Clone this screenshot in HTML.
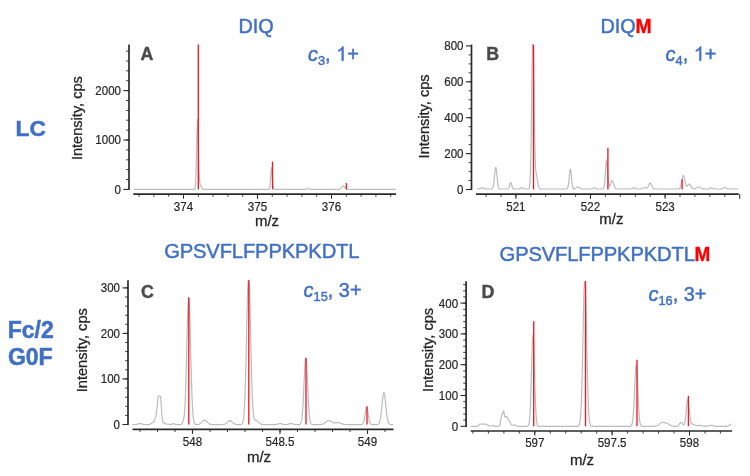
<!DOCTYPE html>
<html><head><meta charset="utf-8"><title>Figure</title>
<style>
html,body{margin:0;padding:0;background:#fff;}
body{width:750px;height:476px;overflow:hidden;font-family:"Liberation Sans",sans-serif;}
svg{display:block;font-family:"Liberation Sans",sans-serif;filter:blur(0.35px);}
</style></head><body>
<svg width="750" height="476" viewBox="0 0 750 476">
<rect width="750" height="476" fill="#ffffff"/>
<path d="M134 189.4 L194 189.4 L194.5 189.2 L195 188.2 L195.5 184.3 L196 173.8 L196.5 154.4 L197 131.7 L197.5 119.5 L198 127.1 L198.5 148.3 L199 168.7 L199.5 180.2 L200 184.1 L200.5 185.1 L201 185.8 L201.5 186.9 L202 188.1 L202.5 188.8 L203 189.2 L203.5 189.4 L268.5 189.4 L269 189.3 L269.5 188.6 L270 186.1 L270.5 180.3 L271 172.2 L271.5 167.5 L272 170.5 L272.5 178.4 L273 185 L273.5 188.2 L274 189.2 L274.5 189.4 L305 189.4 L305.5 189.3 L306 189.2 L306.5 188.9 L307 188.5 L307.5 188.3 L308 188.2 L308.5 188.4 L309 188.8 L309.5 189.1 L310 189.3 L310.5 189.4 L338.5 189.4 L339 189.3 L339.5 189.2 L340 189 L340.5 188.7 L341 188.2 L341.5 187.6 L342 186.9 L342.5 186.4 L343 186 L343.5 185.9 L344 186.2 L344.5 186.7 L345 187.4 L345.5 188 L346 188.5 L346.5 188.9 L347 189.1 L347.5 189.3 L348 189.3 L348.5 189.4 L396 189.4" fill="none" stroke="#bcbcbc" stroke-width="1.2" stroke-linejoin="round"/>
<line x1="198.3" y1="44.6" x2="198.3" y2="189.4" stroke="#ee1c24" stroke-width="1.35"/>
<line x1="272.5" y1="161.58780000000002" x2="272.5" y2="189.4" stroke="#ee1c24" stroke-width="1.35"/>
<line x1="346.4" y1="182.978" x2="346.4" y2="189.4" stroke="#ee1c24" stroke-width="1.35"/>
<line x1="129.0" y1="44.6" x2="129.0" y2="190.0" stroke="#2b2b2b" stroke-width="1.7"/>
<line x1="126.1" y1="179.5" x2="129.0" y2="179.5" stroke="#2b2b2b" stroke-width="0.9"/>
<line x1="126.1" y1="169.6" x2="129.0" y2="169.6" stroke="#2b2b2b" stroke-width="0.9"/>
<line x1="126.1" y1="159.8" x2="129.0" y2="159.8" stroke="#2b2b2b" stroke-width="0.9"/>
<line x1="126.1" y1="149.9" x2="129.0" y2="149.9" stroke="#2b2b2b" stroke-width="0.9"/>
<line x1="126.1" y1="140.0" x2="129.0" y2="140.0" stroke="#2b2b2b" stroke-width="0.9"/>
<line x1="126.1" y1="130.1" x2="129.0" y2="130.1" stroke="#2b2b2b" stroke-width="0.9"/>
<line x1="126.1" y1="120.2" x2="129.0" y2="120.2" stroke="#2b2b2b" stroke-width="0.9"/>
<line x1="126.1" y1="110.4" x2="129.0" y2="110.4" stroke="#2b2b2b" stroke-width="0.9"/>
<line x1="126.1" y1="100.5" x2="129.0" y2="100.5" stroke="#2b2b2b" stroke-width="0.9"/>
<line x1="126.1" y1="90.6" x2="129.0" y2="90.6" stroke="#2b2b2b" stroke-width="0.9"/>
<line x1="126.1" y1="80.7" x2="129.0" y2="80.7" stroke="#2b2b2b" stroke-width="0.9"/>
<line x1="126.1" y1="70.8" x2="129.0" y2="70.8" stroke="#2b2b2b" stroke-width="0.9"/>
<line x1="126.1" y1="61.0" x2="129.0" y2="61.0" stroke="#2b2b2b" stroke-width="0.9"/>
<line x1="126.1" y1="51.1" x2="129.0" y2="51.1" stroke="#2b2b2b" stroke-width="0.9"/>
<line x1="123.4" y1="189.4" x2="129.0" y2="189.4" stroke="#2b2b2b" stroke-width="1.1"/>
<line x1="123.4" y1="140.0" x2="129.0" y2="140.0" stroke="#2b2b2b" stroke-width="1.1"/>
<line x1="123.4" y1="90.6" x2="129.0" y2="90.6" stroke="#2b2b2b" stroke-width="1.1"/>
<line x1="133.3" y1="194.1" x2="396" y2="194.1" stroke="#2b2b2b" stroke-width="1.7"/>
<line x1="139.1" y1="194.1" x2="139.1" y2="196.7" stroke="#2b2b2b" stroke-width="0.9"/>
<line x1="153.9" y1="194.1" x2="153.9" y2="196.7" stroke="#2b2b2b" stroke-width="0.9"/>
<line x1="168.7" y1="194.1" x2="168.7" y2="196.7" stroke="#2b2b2b" stroke-width="0.9"/>
<line x1="183.5" y1="194.1" x2="183.5" y2="196.7" stroke="#2b2b2b" stroke-width="0.9"/>
<line x1="198.3" y1="194.1" x2="198.3" y2="196.7" stroke="#2b2b2b" stroke-width="0.9"/>
<line x1="213.1" y1="194.1" x2="213.1" y2="196.7" stroke="#2b2b2b" stroke-width="0.9"/>
<line x1="227.9" y1="194.1" x2="227.9" y2="196.7" stroke="#2b2b2b" stroke-width="0.9"/>
<line x1="242.7" y1="194.1" x2="242.7" y2="196.7" stroke="#2b2b2b" stroke-width="0.9"/>
<line x1="257.5" y1="194.1" x2="257.5" y2="196.7" stroke="#2b2b2b" stroke-width="0.9"/>
<line x1="272.3" y1="194.1" x2="272.3" y2="196.7" stroke="#2b2b2b" stroke-width="0.9"/>
<line x1="287.1" y1="194.1" x2="287.1" y2="196.7" stroke="#2b2b2b" stroke-width="0.9"/>
<line x1="301.9" y1="194.1" x2="301.9" y2="196.7" stroke="#2b2b2b" stroke-width="0.9"/>
<line x1="316.7" y1="194.1" x2="316.7" y2="196.7" stroke="#2b2b2b" stroke-width="0.9"/>
<line x1="331.5" y1="194.1" x2="331.5" y2="196.7" stroke="#2b2b2b" stroke-width="0.9"/>
<line x1="346.3" y1="194.1" x2="346.3" y2="196.7" stroke="#2b2b2b" stroke-width="0.9"/>
<line x1="361.1" y1="194.1" x2="361.1" y2="196.7" stroke="#2b2b2b" stroke-width="0.9"/>
<line x1="375.9" y1="194.1" x2="375.9" y2="196.7" stroke="#2b2b2b" stroke-width="0.9"/>
<line x1="390.7" y1="194.1" x2="390.7" y2="196.7" stroke="#2b2b2b" stroke-width="0.9"/>
<line x1="183.5" y1="194.1" x2="183.5" y2="198.7" stroke="#2b2b2b" stroke-width="1.1"/>
<line x1="257.5" y1="194.1" x2="257.5" y2="198.7" stroke="#2b2b2b" stroke-width="1.1"/>
<line x1="331.5" y1="194.1" x2="331.5" y2="198.7" stroke="#2b2b2b" stroke-width="1.1"/>
<text transform="translate(121.0 193.8) scale(0.94 1)" font-size="12.3" text-anchor="end" fill="#262626" stroke="#262626" stroke-width="0.2">0</text>
<text transform="translate(121.0 144.4) scale(0.94 1)" font-size="12.3" text-anchor="end" fill="#262626" stroke="#262626" stroke-width="0.2">1000</text>
<text transform="translate(121.0 95.0) scale(0.94 1)" font-size="12.3" text-anchor="end" fill="#262626" stroke="#262626" stroke-width="0.2">2000</text>
<text transform="translate(183.5 210.8) scale(0.94 1)" font-size="12.3" text-anchor="middle" fill="#262626" stroke="#262626" stroke-width="0.2">374</text>
<text transform="translate(257.5 210.8) scale(0.94 1)" font-size="12.3" text-anchor="middle" fill="#262626" stroke="#262626" stroke-width="0.2">375</text>
<text transform="translate(331.5 210.8) scale(0.94 1)" font-size="12.3" text-anchor="middle" fill="#262626" stroke="#262626" stroke-width="0.2">376</text>
<path d="M477 189 L478.5 189 L479 188.9 L479.5 188.8 L480 188.6 L480.5 188.4 L481 188.2 L481.5 188 L482 187.8 L482.5 187.8 L483 187.9 L483.5 188.1 L484 188.4 L484.5 188.6 L485 188.8 L485.5 188.9 L486 188.9 L486.5 189 L491.5 189 L492 188.8 L492.5 188.4 L493 187.4 L493.5 185.3 L494 181.5 L494.5 176.3 L495 171 L495.5 167.5 L496 167.4 L496.5 170.8 L497 176.1 L497.5 181.3 L498 185.2 L498.5 187.4 L499 188.4 L499.5 188.8 L500 189 L507.5 189 L508 188.8 L508.5 188.4 L509 187.4 L509.5 185.8 L510 183.8 L510.5 182.6 L511 182.8 L511.5 184.4 L512 186.3 L512.5 187.8 L513 188.6 L513.5 188.9 L514 189 L518.5 189 L519 188.9 L519.5 188.8 L520 188.6 L520.5 188.3 L521 188 L521.5 187.8 L522 187.7 L522.5 187.9 L523 188.2 L523.5 188.5 L524 188.7 L524.5 188.9 L525 189 L528 189 L528.5 188.9 L529 188.5 L529.5 187 L530 182.5 L530.5 171.2 L531 148.6 L531.5 113.4 L532 71.9 L532.5 44.6 L533 44.6 L533.5 48.1 L534 85.3 L534.5 123.9 L535 151.9 L535.5 166.6 L536 172.4 L536.5 174.8 L537 177.2 L537.5 180.3 L538 183.6 L538.5 186.1 L539 187.7 L539.5 188.5 L540 188.9 L540.5 189 L566.5 189 L567 188.8 L567.5 188.3 L568 187 L568.5 184.2 L569 179.7 L569.5 174.2 L570 170 L570.5 169.2 L571 172.1 L571.5 177.3 L572 182.4 L572.5 186 L573 187.9 L573.5 188.6 L574 188.8 L574.5 188.8 L575 188.7 L575.5 188.4 L576 188 L576.5 187.6 L577 187.3 L577.5 187 L578 187 L578.5 187.2 L579 187.5 L579.5 187.9 L580 188.3 L580.5 188.6 L581 188.8 L581.5 188.9 L582 189 L591 189 L591.5 188.9 L592 188.8 L592.5 188.6 L593 188.3 L593.5 188 L594 187.8 L594.5 187.8 L595 188 L595.5 188.3 L596 188.6 L596.5 188.8 L597 188.9 L597.5 189 L602.5 189 L603 188.8 L603.5 188.4 L604 187 L604.5 183.8 L605 178.1 L605.5 170.4 L606 163.3 L606.5 160 L607 162.4 L607.5 169.1 L608 176.8 L608.5 182.6 L609 185.7 L609.5 186.4 L610 185.7 L610.5 184.3 L611 182.6 L611.5 181.2 L612 180.5 L612.5 180.7 L613 181.8 L613.5 183.4 L614 185.1 L614.5 186.6 L615 187.6 L615.5 188.3 L616 188.7 L616.5 188.9 L617 189 L630.5 189 L631 188.9 L631.5 188.8 L632 188.6 L632.5 188.3 L633 188 L633.5 187.8 L634 187.8 L634.5 188 L635 188.3 L635.5 188.6 L636 188.8 L636.5 188.9 L637 189 L640 189 L640.5 188.9 L641 188.8 L641.5 188.7 L642 188.5 L642.5 188.2 L643 187.9 L643.5 187.7 L644 187.5 L644.5 187.5 L645 187.7 L645.5 187.9 L646 188.1 L646.5 188.2 L647 188.1 L647.5 187.6 L648 186.9 L648.5 185.8 L649 184.6 L649.5 183.6 L650 183 L650.5 183.1 L651 183.8 L651.5 184.9 L652 186.1 L652.5 187.2 L653 188 L653.5 188.5 L654 188.8 L654.5 188.9 L655 189 L678 189 L678.5 188.9 L679 188.8 L679.5 188.5 L680 188 L680.5 186.9 L681 185.2 L681.5 182.9 L682 180.3 L682.5 177.7 L683 176 L683.5 175.5 L684 176.5 L684.5 178.6 L685 181.2 L685.5 183.6 L686 185.3 L686.5 186.2 L687 186.3 L687.5 185.8 L688 185.1 L688.5 184.4 L689 184 L689.5 184.1 L690 184.6 L690.5 185.4 L691 186.3 L691.5 187.2 L692 187.9 L692.5 188.4 L693 188.7 L693.5 188.8 L694.5 188.8 L695 188.6 L695.5 188.4 L696 188.2 L696.5 187.9 L697 187.6 L697.5 187.3 L698 187.1 L698.5 187 L699 187 L699.5 187.2 L700 187.4 L700.5 187.7 L701 188 L701.5 188.3 L702 188.5 L702.5 188.7 L703 188.8 L703.5 188.9 L704 188.9 L704.5 189 L708 189 L708.5 188.9 L709 188.8 L709.5 188.6 L710 188.4 L710.5 188.1 L711 187.9 L711.5 187.8 L712 188 L712.5 188.2 L713 188.5 L713.5 188.8 L714 188.9 L714.5 189 L720.5 189 L721 188.9 L721.5 188.9 L722 188.7 L722.5 188.5 L723 188.3 L723.5 188 L724 187.7 L724.5 187.5 L725 187.5 L725.5 187.7 L726 187.9 L726.5 188.2 L727 188.5 L727.5 188.7 L728 188.9 L728.5 188.9 L729 189 L738 189" fill="none" stroke="#bcbcbc" stroke-width="1.2" stroke-linejoin="round"/>
<line x1="533.5" y1="44.6" x2="533.5" y2="189.5" stroke="#ee1c24" stroke-width="1.35"/>
<line x1="607.9" y1="147.6765" x2="607.9" y2="189.5" stroke="#ee1c24" stroke-width="1.35"/>
<line x1="682.1" y1="179.2685" x2="682.1" y2="189.5" stroke="#ee1c24" stroke-width="1.35"/>
<line x1="471.5" y1="44.6" x2="471.5" y2="190.1" stroke="#2b2b2b" stroke-width="1.7"/>
<line x1="468.6" y1="180.5" x2="471.5" y2="180.5" stroke="#2b2b2b" stroke-width="0.9"/>
<line x1="468.6" y1="171.6" x2="471.5" y2="171.6" stroke="#2b2b2b" stroke-width="0.9"/>
<line x1="468.6" y1="162.6" x2="471.5" y2="162.6" stroke="#2b2b2b" stroke-width="0.9"/>
<line x1="468.6" y1="153.6" x2="471.5" y2="153.6" stroke="#2b2b2b" stroke-width="0.9"/>
<line x1="468.6" y1="144.6" x2="471.5" y2="144.6" stroke="#2b2b2b" stroke-width="0.9"/>
<line x1="468.6" y1="135.7" x2="471.5" y2="135.7" stroke="#2b2b2b" stroke-width="0.9"/>
<line x1="468.6" y1="126.7" x2="471.5" y2="126.7" stroke="#2b2b2b" stroke-width="0.9"/>
<line x1="468.6" y1="117.7" x2="471.5" y2="117.7" stroke="#2b2b2b" stroke-width="0.9"/>
<line x1="468.6" y1="108.7" x2="471.5" y2="108.7" stroke="#2b2b2b" stroke-width="0.9"/>
<line x1="468.6" y1="99.8" x2="471.5" y2="99.8" stroke="#2b2b2b" stroke-width="0.9"/>
<line x1="468.6" y1="90.8" x2="471.5" y2="90.8" stroke="#2b2b2b" stroke-width="0.9"/>
<line x1="468.6" y1="81.8" x2="471.5" y2="81.8" stroke="#2b2b2b" stroke-width="0.9"/>
<line x1="468.6" y1="72.8" x2="471.5" y2="72.8" stroke="#2b2b2b" stroke-width="0.9"/>
<line x1="468.6" y1="63.9" x2="471.5" y2="63.9" stroke="#2b2b2b" stroke-width="0.9"/>
<line x1="468.6" y1="54.9" x2="471.5" y2="54.9" stroke="#2b2b2b" stroke-width="0.9"/>
<line x1="465.9" y1="189.5" x2="471.5" y2="189.5" stroke="#2b2b2b" stroke-width="1.1"/>
<line x1="465.9" y1="153.6" x2="471.5" y2="153.6" stroke="#2b2b2b" stroke-width="1.1"/>
<line x1="465.9" y1="117.7" x2="471.5" y2="117.7" stroke="#2b2b2b" stroke-width="1.1"/>
<line x1="465.9" y1="81.8" x2="471.5" y2="81.8" stroke="#2b2b2b" stroke-width="1.1"/>
<line x1="465.9" y1="45.9" x2="471.5" y2="45.9" stroke="#2b2b2b" stroke-width="1.1"/>
<line x1="476" y1="194.2" x2="738.8" y2="194.2" stroke="#2b2b2b" stroke-width="1.7"/>
<line x1="486.1" y1="194.2" x2="486.1" y2="196.79999999999998" stroke="#2b2b2b" stroke-width="0.9"/>
<line x1="501.0" y1="194.2" x2="501.0" y2="196.79999999999998" stroke="#2b2b2b" stroke-width="0.9"/>
<line x1="515.9" y1="194.2" x2="515.9" y2="196.79999999999998" stroke="#2b2b2b" stroke-width="0.9"/>
<line x1="530.8" y1="194.2" x2="530.8" y2="196.79999999999998" stroke="#2b2b2b" stroke-width="0.9"/>
<line x1="545.7" y1="194.2" x2="545.7" y2="196.79999999999998" stroke="#2b2b2b" stroke-width="0.9"/>
<line x1="560.7" y1="194.2" x2="560.7" y2="196.79999999999998" stroke="#2b2b2b" stroke-width="0.9"/>
<line x1="575.6" y1="194.2" x2="575.6" y2="196.79999999999998" stroke="#2b2b2b" stroke-width="0.9"/>
<line x1="590.5" y1="194.2" x2="590.5" y2="196.79999999999998" stroke="#2b2b2b" stroke-width="0.9"/>
<line x1="605.4" y1="194.2" x2="605.4" y2="196.79999999999998" stroke="#2b2b2b" stroke-width="0.9"/>
<line x1="620.3" y1="194.2" x2="620.3" y2="196.79999999999998" stroke="#2b2b2b" stroke-width="0.9"/>
<line x1="635.3" y1="194.2" x2="635.3" y2="196.79999999999998" stroke="#2b2b2b" stroke-width="0.9"/>
<line x1="650.2" y1="194.2" x2="650.2" y2="196.79999999999998" stroke="#2b2b2b" stroke-width="0.9"/>
<line x1="665.1" y1="194.2" x2="665.1" y2="196.79999999999998" stroke="#2b2b2b" stroke-width="0.9"/>
<line x1="680.0" y1="194.2" x2="680.0" y2="196.79999999999998" stroke="#2b2b2b" stroke-width="0.9"/>
<line x1="694.9" y1="194.2" x2="694.9" y2="196.79999999999998" stroke="#2b2b2b" stroke-width="0.9"/>
<line x1="709.9" y1="194.2" x2="709.9" y2="196.79999999999998" stroke="#2b2b2b" stroke-width="0.9"/>
<line x1="724.8" y1="194.2" x2="724.8" y2="196.79999999999998" stroke="#2b2b2b" stroke-width="0.9"/>
<line x1="515.9" y1="194.2" x2="515.9" y2="198.79999999999998" stroke="#2b2b2b" stroke-width="1.1"/>
<line x1="590.5" y1="194.2" x2="590.5" y2="198.79999999999998" stroke="#2b2b2b" stroke-width="1.1"/>
<line x1="665.1" y1="194.2" x2="665.1" y2="198.79999999999998" stroke="#2b2b2b" stroke-width="1.1"/>
<line x1="739.7" y1="194.2" x2="739.7" y2="198.79999999999998" stroke="#2b2b2b" stroke-width="1.1"/>
<text transform="translate(463.5 193.9) scale(0.94 1)" font-size="12.3" text-anchor="end" fill="#262626" stroke="#262626" stroke-width="0.2">0</text>
<text transform="translate(463.5 158.0) scale(0.94 1)" font-size="12.3" text-anchor="end" fill="#262626" stroke="#262626" stroke-width="0.2">200</text>
<text transform="translate(463.5 122.1) scale(0.94 1)" font-size="12.3" text-anchor="end" fill="#262626" stroke="#262626" stroke-width="0.2">400</text>
<text transform="translate(463.5 86.2) scale(0.94 1)" font-size="12.3" text-anchor="end" fill="#262626" stroke="#262626" stroke-width="0.2">600</text>
<text transform="translate(463.5 50.3) scale(0.94 1)" font-size="12.3" text-anchor="end" fill="#262626" stroke="#262626" stroke-width="0.2">800</text>
<text transform="translate(515.9 210.9) scale(0.94 1)" font-size="12.3" text-anchor="middle" fill="#262626" stroke="#262626" stroke-width="0.2">521</text>
<text transform="translate(590.5 210.9) scale(0.94 1)" font-size="12.3" text-anchor="middle" fill="#262626" stroke="#262626" stroke-width="0.2">522</text>
<text transform="translate(665.1 210.9) scale(0.94 1)" font-size="12.3" text-anchor="middle" fill="#262626" stroke="#262626" stroke-width="0.2">523</text>
<path d="M132.5 424.6 L135 424.6 L135.5 424.5 L136 424.5 L136.5 424.4 L137 424.3 L137.5 424.1 L138 424 L138.5 423.8 L139 423.7 L139.5 423.6 L140.5 423.6 L141 423.7 L141.5 423.8 L142 424 L142.5 424.1 L143 424.3 L143.5 424.4 L144 424.5 L144.5 424.5 L145 424.6 L149.5 424.6 L150 424.3 L151 423.6 L153.4 422.1 L154.6 420 L155.5 417.6 L156.2 414 L157.4 404.6 L158.2 396.3 L159.4 396 L160.6 396.3 L161.2 404.6 L161.8 414 L162.7 421.1 L163.4 423.1 L164.8 422.8 L166 424 L170.8 424.3 L173.8 423.6 L175 424.3 L175.5 424.6 L180.5 424.6 L181 424.5 L181.5 424.3 L182 423.8 L182.5 422.8 L183 421.3 L183.5 419.6 L184 417.2 L184.5 412.8 L185 405.2 L185.5 393.6 L186 378 L186.5 359.1 L187 338.8 L187.5 319.7 L188 305 L188.5 297.3 L189 298.2 L189.5 307.5 L190 323.3 L190.5 342.9 L191 363.1 L191.5 381.4 L192 396.3 L192.5 407.3 L193 414.7 L193.5 419.3 L194 422 L194.5 423.4 L195 424.1 L195.5 424.4 L196 424.5 L197.5 424.5 L198 424.4 L198.5 424.3 L199 424.2 L199.5 424 L200 423.7 L200.5 423.3 L201 422.9 L201.5 422.4 L202 421.9 L202.5 421.3 L203 420.8 L203.5 420.4 L204 420.2 L204.5 420.1 L205 420.2 L205.5 420.4 L206 420.8 L206.5 421.3 L207 421.9 L207.5 422.4 L208 422.9 L208.5 423.3 L209 423.7 L209.5 424 L210 424.2 L210.5 424.3 L211 424.4 L211.5 424.5 L212 424.6 L222 424.6 L222.5 424.5 L223 424.5 L223.5 424.4 L224 424.4 L224.5 424.2 L225 424 L225.5 423.7 L226 423.4 L226.5 423 L227 422.6 L227.5 422.1 L228 421.6 L228.5 421.2 L229 420.9 L229.5 420.7 L230 420.6 L230.5 420.7 L231 421 L231.5 421.3 L232 421.8 L232.5 422.3 L233 422.7 L233.5 423.2 L234 423.6 L234.5 423.9 L235 424.1 L235.5 424.3 L236 424.4 L236.5 424.5 L237 424.5 L237.5 424.6 L240.5 424.6 L241 424.5 L241.5 424.3 L242 424 L242.5 423.2 L243 421.6 L243.5 418.8 L244 413.9 L244.5 406.3 L245 394.9 L245.5 379.5 L246 360.2 L246.5 338.2 L247 315.7 L247.5 295.6 L248 281.2 L248.5 280.4 L249 280.4 L249.5 288.9 L250 307 L250.5 328.7 L251 351 L251.5 371.4 L252 388.1 L252.5 400.7 L253 409.3 L253.5 414.7 L254 417.8 L254.5 419.3 L255 420 L255.5 420.3 L256 420.4 L256.5 420.6 L257 420.9 L257.5 421.3 L258 421.7 L258.5 422.2 L259 422.7 L259.5 423.1 L260 423.5 L260.5 423.8 L261 424.1 L261.5 424.2 L262 424.4 L262.5 424.5 L263 424.5 L263.5 424.6 L275 424.6 L275.5 424.5 L276 424.5 L276.5 424.4 L277 424.3 L277.5 424.1 L278 424 L278.5 423.8 L279 423.7 L279.5 423.6 L280.5 423.6 L281 423.7 L281.5 423.8 L282 424 L282.5 424.1 L283 424.3 L283.5 424.4 L284 424.5 L285 424.5 L285.5 424.6 L286 424.5 L287 424.5 L287.5 424.4 L288 424.3 L288.5 424.1 L289 424 L289.5 423.8 L290 423.7 L290.5 423.6 L291.5 423.6 L292 423.7 L292.5 423.8 L293 424 L293.5 424.1 L294 424.3 L294.5 424.4 L295 424.5 L295.5 424.5 L296 424.6 L298.5 424.6 L299 424.5 L299.5 424.5 L300 424.2 L300.5 423.7 L301 422.7 L301.5 420.7 L302 417.4 L302.5 412.1 L303 404.6 L303.5 395 L304 384 L304.5 373 L305 363.9 L305.5 358.5 L306 358 L306.5 362.5 L307 371 L307.5 381.7 L308 392.9 L308.5 402.8 L309 410.8 L309.5 416.5 L310 420.2 L310.5 422.4 L311 423.6 L311.5 424.2 L312 424.4 L312.5 424.5 L313 424.6 L319.5 424.6 L320 424.5 L321 424.5 L321.5 424.4 L322 424.3 L322.5 424.1 L323 423.9 L323.5 423.7 L324 423.4 L324.5 423.1 L325 422.7 L325.5 422.3 L326 421.9 L326.5 421.5 L327 421.2 L327.5 420.9 L328 420.7 L328.5 420.6 L329 420.6 L329.5 420.7 L330 420.9 L330.5 421.2 L331 421.5 L331.5 421.8 L332 422.1 L332.5 422.4 L333 422.7 L333.5 422.8 L334 422.9 L334.5 423 L335 422.9 L335.5 422.9 L336 422.8 L336.5 422.7 L337 422.6 L338.5 422.6 L339 422.7 L339.5 422.8 L340 423 L340.5 423.2 L341 423.4 L341.5 423.6 L342 423.8 L342.5 424 L343 424.1 L343.5 424.2 L344 424.3 L344.5 424.4 L345 424.5 L346 424.5 L346.5 424.6 L361 424.6 L361.5 424.5 L362 424.3 L362.5 424 L363 423.2 L363.5 422 L364 420.1 L364.5 417.4 L365 414.3 L365.5 411.2 L366 408.8 L366.5 407.6 L367 408.1 L367.5 410.1 L368 413 L368.5 416.2 L369 419.1 L369.5 421.3 L370 422.8 L370.5 423.7 L371 424.2 L371.5 424.4 L372 424.5 L372.5 424.6 L377 424.6 L377.5 424.5 L378 424.3 L378.5 424 L379 423.4 L379.5 422.4 L380 420.7 L380.5 418.1 L381 414.6 L381.5 410.2 L382 405.2 L382.5 400.2 L383 396 L383.5 393.3 L384 392.6 L384.5 394.2 L385 397.5 L385.5 402.2 L386 407.2 L386.5 412.1 L387 416.1 L387.5 419.3 L388 421.5 L388.5 422.9 L389 423.7 L389.5 424.2 L390 424.4 L390.5 424.5 L391 424.6 L393 424.6" fill="none" stroke="#bcbcbc" stroke-width="1.2" stroke-linejoin="round"/>
<line x1="188.8" y1="297.4155" x2="188.8" y2="424.5" stroke="#ee1c24" stroke-width="1.35"/>
<line x1="248.8" y1="280.2" x2="248.8" y2="424.5" stroke="#ee1c24" stroke-width="1.35"/>
<line x1="306" y1="357.997" x2="306" y2="424.5" stroke="#ee1c24" stroke-width="1.35"/>
<line x1="367" y1="406.28" x2="367" y2="424.5" stroke="#ee1c24" stroke-width="1.35"/>
<line x1="128" y1="280.2" x2="128" y2="425.1" stroke="#2b2b2b" stroke-width="1.7"/>
<line x1="125.1" y1="415.4" x2="128" y2="415.4" stroke="#2b2b2b" stroke-width="0.9"/>
<line x1="125.1" y1="406.3" x2="128" y2="406.3" stroke="#2b2b2b" stroke-width="0.9"/>
<line x1="125.1" y1="397.2" x2="128" y2="397.2" stroke="#2b2b2b" stroke-width="0.9"/>
<line x1="125.1" y1="388.1" x2="128" y2="388.1" stroke="#2b2b2b" stroke-width="0.9"/>
<line x1="125.1" y1="378.9" x2="128" y2="378.9" stroke="#2b2b2b" stroke-width="0.9"/>
<line x1="125.1" y1="369.8" x2="128" y2="369.8" stroke="#2b2b2b" stroke-width="0.9"/>
<line x1="125.1" y1="360.7" x2="128" y2="360.7" stroke="#2b2b2b" stroke-width="0.9"/>
<line x1="125.1" y1="351.6" x2="128" y2="351.6" stroke="#2b2b2b" stroke-width="0.9"/>
<line x1="125.1" y1="342.5" x2="128" y2="342.5" stroke="#2b2b2b" stroke-width="0.9"/>
<line x1="125.1" y1="333.4" x2="128" y2="333.4" stroke="#2b2b2b" stroke-width="0.9"/>
<line x1="125.1" y1="324.3" x2="128" y2="324.3" stroke="#2b2b2b" stroke-width="0.9"/>
<line x1="125.1" y1="315.2" x2="128" y2="315.2" stroke="#2b2b2b" stroke-width="0.9"/>
<line x1="125.1" y1="306.1" x2="128" y2="306.1" stroke="#2b2b2b" stroke-width="0.9"/>
<line x1="125.1" y1="297.0" x2="128" y2="297.0" stroke="#2b2b2b" stroke-width="0.9"/>
<line x1="125.1" y1="287.9" x2="128" y2="287.9" stroke="#2b2b2b" stroke-width="0.9"/>
<line x1="122.4" y1="424.5" x2="128" y2="424.5" stroke="#2b2b2b" stroke-width="1.1"/>
<line x1="122.4" y1="378.9" x2="128" y2="378.9" stroke="#2b2b2b" stroke-width="1.1"/>
<line x1="122.4" y1="333.4" x2="128" y2="333.4" stroke="#2b2b2b" stroke-width="1.1"/>
<line x1="122.4" y1="287.9" x2="128" y2="287.9" stroke="#2b2b2b" stroke-width="1.1"/>
<line x1="132.5" y1="429.4" x2="393.5" y2="429.4" stroke="#2b2b2b" stroke-width="1.7"/>
<line x1="140.0" y1="429.4" x2="140.0" y2="432.0" stroke="#2b2b2b" stroke-width="0.9"/>
<line x1="157.5" y1="429.4" x2="157.5" y2="432.0" stroke="#2b2b2b" stroke-width="0.9"/>
<line x1="175.0" y1="429.4" x2="175.0" y2="432.0" stroke="#2b2b2b" stroke-width="0.9"/>
<line x1="192.5" y1="429.4" x2="192.5" y2="432.0" stroke="#2b2b2b" stroke-width="0.9"/>
<line x1="210.0" y1="429.4" x2="210.0" y2="432.0" stroke="#2b2b2b" stroke-width="0.9"/>
<line x1="227.5" y1="429.4" x2="227.5" y2="432.0" stroke="#2b2b2b" stroke-width="0.9"/>
<line x1="245.0" y1="429.4" x2="245.0" y2="432.0" stroke="#2b2b2b" stroke-width="0.9"/>
<line x1="262.5" y1="429.4" x2="262.5" y2="432.0" stroke="#2b2b2b" stroke-width="0.9"/>
<line x1="280.0" y1="429.4" x2="280.0" y2="432.0" stroke="#2b2b2b" stroke-width="0.9"/>
<line x1="297.5" y1="429.4" x2="297.5" y2="432.0" stroke="#2b2b2b" stroke-width="0.9"/>
<line x1="315.0" y1="429.4" x2="315.0" y2="432.0" stroke="#2b2b2b" stroke-width="0.9"/>
<line x1="332.5" y1="429.4" x2="332.5" y2="432.0" stroke="#2b2b2b" stroke-width="0.9"/>
<line x1="350.0" y1="429.4" x2="350.0" y2="432.0" stroke="#2b2b2b" stroke-width="0.9"/>
<line x1="367.5" y1="429.4" x2="367.5" y2="432.0" stroke="#2b2b2b" stroke-width="0.9"/>
<line x1="385.0" y1="429.4" x2="385.0" y2="432.0" stroke="#2b2b2b" stroke-width="0.9"/>
<line x1="192.5" y1="429.4" x2="192.5" y2="434.0" stroke="#2b2b2b" stroke-width="1.1"/>
<line x1="280.0" y1="429.4" x2="280.0" y2="434.0" stroke="#2b2b2b" stroke-width="1.1"/>
<line x1="367.5" y1="429.4" x2="367.5" y2="434.0" stroke="#2b2b2b" stroke-width="1.1"/>
<text transform="translate(120.0 428.9) scale(0.94 1)" font-size="12.3" text-anchor="end" fill="#262626" stroke="#262626" stroke-width="0.2">0</text>
<text transform="translate(120.0 383.3) scale(0.94 1)" font-size="12.3" text-anchor="end" fill="#262626" stroke="#262626" stroke-width="0.2">100</text>
<text transform="translate(120.0 337.8) scale(0.94 1)" font-size="12.3" text-anchor="end" fill="#262626" stroke="#262626" stroke-width="0.2">200</text>
<text transform="translate(120.0 292.2) scale(0.94 1)" font-size="12.3" text-anchor="end" fill="#262626" stroke="#262626" stroke-width="0.2">300</text>
<text transform="translate(192.5 445.8) scale(0.94 1)" font-size="12.3" text-anchor="middle" fill="#262626" stroke="#262626" stroke-width="0.2">548</text>
<text transform="translate(280.0 445.8) scale(0.94 1)" font-size="12.3" text-anchor="middle" fill="#262626" stroke="#262626" stroke-width="0.2">548.5</text>
<text transform="translate(367.5 445.8) scale(0.94 1)" font-size="12.3" text-anchor="middle" fill="#262626" stroke="#262626" stroke-width="0.2">549</text>
<path d="M471 426.3 L477 426.3 L477.5 426 L479 425.1 L479.8 424.2 L483 424 L486 424.2 L487.5 425.1 L489 425.9 L492 426 L493.3 425.3 L494 426 L494.5 426.3 L498.5 426.3 L499 426 L500 425.3 L500.6 420.3 L501.5 415.8 L502.6 413.3 L503.7 410.7 L504.4 414.8 L505.1 417.3 L506.5 416.3 L507.8 418.8 L509.3 420.6 L510.5 423.3 L511.7 425.1 L513 425.3 L514.5 424.7 L516 425.5 L517 426 L517.5 426.3 L527 426.3 L527.5 426.2 L528 425.9 L528.5 425.3 L529 423.7 L529.5 420.3 L530 413.8 L530.5 403.4 L531 388.5 L531.5 370.5 L532 352.6 L532.5 339.3 L533 334.3 L533.5 339.3 L534 352.6 L534.5 370.5 L535 388.5 L535.5 403.4 L536 413.8 L536.5 420.3 L537 423.7 L537.5 425.3 L538 425.9 L538.5 426.2 L539 426.3 L577.5 426.3 L578 426.2 L578.5 426 L579 425.5 L579.5 424.3 L580 422 L580.5 417.7 L581 410.1 L581.5 398.4 L582 381.6 L582.5 360 L583 335.3 L583.5 310.7 L584 290.4 L584.5 281.4 L585 281.4 L585.5 287.2 L586 306.2 L586.5 330.3 L587 355.2 L587.5 377.6 L588 395.4 L588.5 408.2 L589 416.4 L589.5 421.3 L590 424 L590.5 425.3 L591 425.9 L591.5 426.2 L592 426.2 L592.5 426.3 L630 426.3 L630.5 426.2 L631 426 L631.5 425.5 L632 424.3 L632.5 422 L633 417.9 L633.5 411.4 L634 402.2 L634.5 391 L635 379.5 L635.5 370 L636 364.8 L636.5 365.4 L637 371.6 L637.5 381.7 L638 393.4 L638.5 404.2 L639 412.9 L639.5 418.9 L640 422.6 L640.5 424.6 L641 425.6 L641.5 426 L642 426.2 L642.5 426.3 L654.5 426.3 L655 426.2 L655.5 426.2 L656 426.1 L656.5 426 L657 425.8 L657.5 425.6 L658 425.3 L658.5 425 L659 424.6 L659.5 424.1 L660 423.7 L660.5 423.3 L661 422.9 L661.5 422.6 L662 422.5 L662.5 422.4 L663.5 422.4 L664 422.5 L664.5 422.7 L665 422.8 L665.5 422.9 L666 423 L666.5 423.2 L667 423.3 L667.5 423.5 L668 423.8 L668.5 424.1 L669 424.4 L669.5 424.7 L670 425.1 L670.5 425.4 L671 425.6 L671.5 425.8 L672 426 L672.5 426.1 L673 426.2 L673.5 426.2 L674 426.3 L676.5 426.3 L677 426.2 L677.5 426 L678 425.8 L678.5 425.3 L679 424.7 L679.5 423.9 L680 423.1 L680.5 422.5 L681 422.3 L681.5 422.5 L682 423.1 L682.5 423.8 L683 424.5 L683.5 424.9 L684 424.7 L684.5 423.6 L685 421.5 L685.5 417.9 L686 413.1 L686.5 407.7 L687 402.9 L687.5 399.8 L688 399.5 L688.5 401.9 L689 406.4 L689.5 411.7 L690 416.4 L690.5 420 L691 422.3 L691.5 423.5 L692 424 L692.5 424.2 L693 424.2 L693.5 424.3 L694 424.5 L694.5 424.8 L695 425 L695.5 425.3 L696 425.5 L696.5 425.7 L697.5 425.7 L698 425.6 L698.5 425.5 L699 425.4 L699.5 425.3 L700.5 425.3 L701 425.4 L701.5 425.5 L702 425.7 L702.5 425.8 L703 426 L703.5 426.1 L704 426.2 L705 426.2 L705.5 426.3 L706 426.2 L707 426.2 L707.5 426.1 L708 426 L708.5 425.8 L709 425.7 L709.5 425.5 L710 425.4 L710.5 425.3 L711.5 425.3 L712 425.4 L712.5 425.5 L713 425.7 L713.5 425.8 L714 426 L714.5 426.1 L715 426.2 L715.5 426.2 L716 426.3 L726.5 426.3 L727 426.2 L727.5 426.2 L728 426 L728.5 425.8 L729 425.5 L729.5 425.1 L730 424.7 L730.5 424.4 L731 424.3 L731.5 424.4" fill="none" stroke="#bcbcbc" stroke-width="1.2" stroke-linejoin="round"/>
<line x1="533.7" y1="321.27200000000005" x2="533.7" y2="426.3" stroke="#ee1c24" stroke-width="1.35"/>
<line x1="585.5" y1="281.2" x2="585.5" y2="426.3" stroke="#ee1c24" stroke-width="1.35"/>
<line x1="637" y1="359.772" x2="637" y2="426.3" stroke="#ee1c24" stroke-width="1.35"/>
<line x1="688.4" y1="395.808" x2="688.4" y2="426.3" stroke="#ee1c24" stroke-width="1.35"/>
<line x1="466.1" y1="281.2" x2="466.1" y2="426.90000000000003" stroke="#2b2b2b" stroke-width="1.7"/>
<line x1="463.20000000000005" y1="420.1" x2="466.1" y2="420.1" stroke="#2b2b2b" stroke-width="0.9"/>
<line x1="463.20000000000005" y1="414.0" x2="466.1" y2="414.0" stroke="#2b2b2b" stroke-width="0.9"/>
<line x1="463.20000000000005" y1="407.8" x2="466.1" y2="407.8" stroke="#2b2b2b" stroke-width="0.9"/>
<line x1="463.20000000000005" y1="401.7" x2="466.1" y2="401.7" stroke="#2b2b2b" stroke-width="0.9"/>
<line x1="463.20000000000005" y1="395.5" x2="466.1" y2="395.5" stroke="#2b2b2b" stroke-width="0.9"/>
<line x1="463.20000000000005" y1="389.3" x2="466.1" y2="389.3" stroke="#2b2b2b" stroke-width="0.9"/>
<line x1="463.20000000000005" y1="383.2" x2="466.1" y2="383.2" stroke="#2b2b2b" stroke-width="0.9"/>
<line x1="463.20000000000005" y1="377.0" x2="466.1" y2="377.0" stroke="#2b2b2b" stroke-width="0.9"/>
<line x1="463.20000000000005" y1="370.9" x2="466.1" y2="370.9" stroke="#2b2b2b" stroke-width="0.9"/>
<line x1="463.20000000000005" y1="364.7" x2="466.1" y2="364.7" stroke="#2b2b2b" stroke-width="0.9"/>
<line x1="463.20000000000005" y1="358.5" x2="466.1" y2="358.5" stroke="#2b2b2b" stroke-width="0.9"/>
<line x1="463.20000000000005" y1="352.4" x2="466.1" y2="352.4" stroke="#2b2b2b" stroke-width="0.9"/>
<line x1="463.20000000000005" y1="346.2" x2="466.1" y2="346.2" stroke="#2b2b2b" stroke-width="0.9"/>
<line x1="463.20000000000005" y1="340.1" x2="466.1" y2="340.1" stroke="#2b2b2b" stroke-width="0.9"/>
<line x1="463.20000000000005" y1="333.9" x2="466.1" y2="333.9" stroke="#2b2b2b" stroke-width="0.9"/>
<line x1="463.20000000000005" y1="327.7" x2="466.1" y2="327.7" stroke="#2b2b2b" stroke-width="0.9"/>
<line x1="463.20000000000005" y1="321.6" x2="466.1" y2="321.6" stroke="#2b2b2b" stroke-width="0.9"/>
<line x1="463.20000000000005" y1="315.4" x2="466.1" y2="315.4" stroke="#2b2b2b" stroke-width="0.9"/>
<line x1="463.20000000000005" y1="309.3" x2="466.1" y2="309.3" stroke="#2b2b2b" stroke-width="0.9"/>
<line x1="463.20000000000005" y1="303.1" x2="466.1" y2="303.1" stroke="#2b2b2b" stroke-width="0.9"/>
<line x1="463.20000000000005" y1="296.9" x2="466.1" y2="296.9" stroke="#2b2b2b" stroke-width="0.9"/>
<line x1="463.20000000000005" y1="290.8" x2="466.1" y2="290.8" stroke="#2b2b2b" stroke-width="0.9"/>
<line x1="463.20000000000005" y1="284.6" x2="466.1" y2="284.6" stroke="#2b2b2b" stroke-width="0.9"/>
<line x1="460.5" y1="426.3" x2="466.1" y2="426.3" stroke="#2b2b2b" stroke-width="1.1"/>
<line x1="460.5" y1="395.5" x2="466.1" y2="395.5" stroke="#2b2b2b" stroke-width="1.1"/>
<line x1="460.5" y1="364.7" x2="466.1" y2="364.7" stroke="#2b2b2b" stroke-width="1.1"/>
<line x1="460.5" y1="333.9" x2="466.1" y2="333.9" stroke="#2b2b2b" stroke-width="1.1"/>
<line x1="460.5" y1="303.1" x2="466.1" y2="303.1" stroke="#2b2b2b" stroke-width="1.1"/>
<line x1="470.7" y1="431.0" x2="732" y2="431.0" stroke="#2b2b2b" stroke-width="1.7"/>
<line x1="472.9" y1="431.0" x2="472.9" y2="433.6" stroke="#2b2b2b" stroke-width="0.9"/>
<line x1="488.4" y1="431.0" x2="488.4" y2="433.6" stroke="#2b2b2b" stroke-width="0.9"/>
<line x1="503.9" y1="431.0" x2="503.9" y2="433.6" stroke="#2b2b2b" stroke-width="0.9"/>
<line x1="519.3" y1="431.0" x2="519.3" y2="433.6" stroke="#2b2b2b" stroke-width="0.9"/>
<line x1="534.8" y1="431.0" x2="534.8" y2="433.6" stroke="#2b2b2b" stroke-width="0.9"/>
<line x1="550.3" y1="431.0" x2="550.3" y2="433.6" stroke="#2b2b2b" stroke-width="0.9"/>
<line x1="565.7" y1="431.0" x2="565.7" y2="433.6" stroke="#2b2b2b" stroke-width="0.9"/>
<line x1="581.2" y1="431.0" x2="581.2" y2="433.6" stroke="#2b2b2b" stroke-width="0.9"/>
<line x1="596.7" y1="431.0" x2="596.7" y2="433.6" stroke="#2b2b2b" stroke-width="0.9"/>
<line x1="612.1" y1="431.0" x2="612.1" y2="433.6" stroke="#2b2b2b" stroke-width="0.9"/>
<line x1="627.6" y1="431.0" x2="627.6" y2="433.6" stroke="#2b2b2b" stroke-width="0.9"/>
<line x1="643.1" y1="431.0" x2="643.1" y2="433.6" stroke="#2b2b2b" stroke-width="0.9"/>
<line x1="658.6" y1="431.0" x2="658.6" y2="433.6" stroke="#2b2b2b" stroke-width="0.9"/>
<line x1="674.0" y1="431.0" x2="674.0" y2="433.6" stroke="#2b2b2b" stroke-width="0.9"/>
<line x1="689.5" y1="431.0" x2="689.5" y2="433.6" stroke="#2b2b2b" stroke-width="0.9"/>
<line x1="705.0" y1="431.0" x2="705.0" y2="433.6" stroke="#2b2b2b" stroke-width="0.9"/>
<line x1="720.4" y1="431.0" x2="720.4" y2="433.6" stroke="#2b2b2b" stroke-width="0.9"/>
<line x1="534.8" y1="431.0" x2="534.8" y2="435.6" stroke="#2b2b2b" stroke-width="1.1"/>
<line x1="612.1" y1="431.0" x2="612.1" y2="435.6" stroke="#2b2b2b" stroke-width="1.1"/>
<line x1="689.5" y1="431.0" x2="689.5" y2="435.6" stroke="#2b2b2b" stroke-width="1.1"/>
<text transform="translate(458.1 430.7) scale(0.94 1)" font-size="12.3" text-anchor="end" fill="#262626" stroke="#262626" stroke-width="0.2">0</text>
<text transform="translate(458.1 399.9) scale(0.94 1)" font-size="12.3" text-anchor="end" fill="#262626" stroke="#262626" stroke-width="0.2">100</text>
<text transform="translate(458.1 369.1) scale(0.94 1)" font-size="12.3" text-anchor="end" fill="#262626" stroke="#262626" stroke-width="0.2">200</text>
<text transform="translate(458.1 338.3) scale(0.94 1)" font-size="12.3" text-anchor="end" fill="#262626" stroke="#262626" stroke-width="0.2">300</text>
<text transform="translate(458.1 307.5) scale(0.94 1)" font-size="12.3" text-anchor="end" fill="#262626" stroke="#262626" stroke-width="0.2">400</text>
<text transform="translate(534.8 447.3) scale(0.94 1)" font-size="12.3" text-anchor="middle" fill="#262626" stroke="#262626" stroke-width="0.2">597</text>
<text transform="translate(612.1 447.3) scale(0.94 1)" font-size="12.3" text-anchor="middle" fill="#262626" stroke="#262626" stroke-width="0.2">597.5</text>
<text transform="translate(689.5 447.3) scale(0.94 1)" font-size="12.3" text-anchor="middle" fill="#262626" stroke="#262626" stroke-width="0.2">598</text>
<text transform="translate(82 118.1) rotate(-90)" font-size="15" textLength="84" lengthAdjust="spacingAndGlyphs" text-anchor="middle" fill="#262626" stroke="#262626" stroke-width="0.3">Intensity, cps</text>
<text transform="translate(429.3 116.4) rotate(-90)" font-size="15" textLength="84" lengthAdjust="spacingAndGlyphs" text-anchor="middle" fill="#262626" stroke="#262626" stroke-width="0.3">Intensity, cps</text>
<text transform="translate(87.3 350.2) rotate(-90)" font-size="15" textLength="84" lengthAdjust="spacingAndGlyphs" text-anchor="middle" fill="#262626" stroke="#262626" stroke-width="0.3">Intensity, cps</text>
<text transform="translate(433.4 349.9) rotate(-90)" font-size="15" textLength="84" lengthAdjust="spacingAndGlyphs" text-anchor="middle" fill="#262626" stroke="#262626" stroke-width="0.3">Intensity, cps</text>
<text x="267" y="226.2" font-size="15" text-anchor="middle" fill="#262626" stroke="#262626" stroke-width="0.3">m/z</text>
<text x="611.4" y="223.8" font-size="15" text-anchor="middle" fill="#262626" stroke="#262626" stroke-width="0.3">m/z</text>
<text x="259" y="462" font-size="15" text-anchor="middle" fill="#262626" stroke="#262626" stroke-width="0.3">m/z</text>
<text x="582" y="465.2" font-size="15" text-anchor="middle" fill="#262626" stroke="#262626" stroke-width="0.3">m/z</text>
<text x="140.6" y="59.9" font-size="17.8" font-weight="bold" fill="#4a4a4a" stroke="#4a4a4a" stroke-width="0.4">A</text>
<text x="486.3" y="60.3" font-size="17.8" font-weight="bold" fill="#4a4a4a" stroke="#4a4a4a" stroke-width="0.4">B</text>
<text x="141" y="298" font-size="17.8" font-weight="bold" fill="#4a4a4a" stroke="#4a4a4a" stroke-width="0.4">C</text>
<text x="481.6" y="297.8" font-size="17.8" font-weight="bold" fill="#4a4a4a" stroke="#4a4a4a" stroke-width="0.4">D</text>
<text x="238.5" y="32.7" font-size="20.3" textLength="35.3" lengthAdjust="spacingAndGlyphs" fill="#4070c6" stroke="#4070c6" stroke-width="0.45">DIQ</text>
<text x="600.4" y="32.7" font-size="20.3" textLength="35.3" lengthAdjust="spacingAndGlyphs" fill="#4070c6" stroke="#4070c6" stroke-width="0.45">DIQ</text>
<text x="635.4" y="32.7" font-size="20.3" textLength="16.2" lengthAdjust="spacingAndGlyphs" font-weight="bold" fill="#ff0000" stroke="#ff0000" stroke-width="0.35">M</text>
<text x="164.2" y="258.3" font-size="20.2" textLength="195.3" lengthAdjust="spacing" fill="#4070c6" stroke="#4070c6" stroke-width="0.45">GPSVFLFPPKPKDTL</text>
<text x="499.6" y="261" font-size="20.2" textLength="195.3" lengthAdjust="spacing" fill="#4070c6" stroke="#4070c6" stroke-width="0.45">GPSVFLFPPKPKDTL</text>
<text x="694.6" y="261" font-size="20.2" textLength="15.8" lengthAdjust="spacingAndGlyphs" font-weight="bold" fill="#ff0000" stroke="#ff0000" stroke-width="0.35">M</text>
<text x="308.0" y="60.8" font-size="19.9" fill="#4070c6" stroke="#4070c6" stroke-width="0.45"><tspan font-style="italic">c</tspan><tspan font-size="12.8" dy="4">3</tspan><tspan dy="-4">,</tspan></text>
<path transform="translate(336.13 60.8) scale(0.00972 -0.00972)" d="M763 0L583 0L583 1147Q518 1085 412.5 1023Q307 961 223 930L223 1104Q374 1175 487 1276Q600 1377 647 1472L763 1472Z" fill="#4070c6" stroke="#4070c6" stroke-width="46"/>
<text x="347.20" y="60.8" font-size="19.9" fill="#4070c6" stroke="#4070c6" stroke-width="0.45">+</text>
<text x="665.6" y="60.8" font-size="19.9" fill="#4070c6" stroke="#4070c6" stroke-width="0.45"><tspan font-style="italic">c</tspan><tspan font-size="12.8" dy="4">4</tspan><tspan dy="-4">,</tspan></text>
<path transform="translate(693.73 60.8) scale(0.00972 -0.00972)" d="M763 0L583 0L583 1147Q518 1085 412.5 1023Q307 961 223 930L223 1104Q374 1175 487 1276Q600 1377 647 1472L763 1472Z" fill="#4070c6" stroke="#4070c6" stroke-width="46"/>
<text x="704.80" y="60.8" font-size="19.9" fill="#4070c6" stroke="#4070c6" stroke-width="0.45">+</text>
<text x="303.6" y="296.7" font-size="19.9" fill="#4070c6" stroke="#4070c6" stroke-width="0.45"><tspan font-style="italic">c</tspan><tspan font-size="12.8" dy="4">15</tspan><tspan dy="-4">, 3+</tspan></text>
<text x="648.5" y="301.4" font-size="19.9" fill="#4070c6" stroke="#4070c6" stroke-width="0.45"><tspan font-style="italic">c</tspan><tspan font-size="12.8" dy="4">16</tspan><tspan dy="-4">, 3+</tspan></text>
<text x="15.6" y="136.2" font-size="22.7" font-weight="bold" fill="#4070c6" stroke="#4070c6" stroke-width="0.5">LC</text>
<text x="7.7" y="338.3" font-size="23" font-weight="bold" fill="#4070c6" stroke="#4070c6" stroke-width="0.5">Fc/2</text>
<text x="7.9" y="365" font-size="23" font-weight="bold" fill="#4070c6" stroke="#4070c6" stroke-width="0.5">G0F</text>
</svg>
</body></html>
